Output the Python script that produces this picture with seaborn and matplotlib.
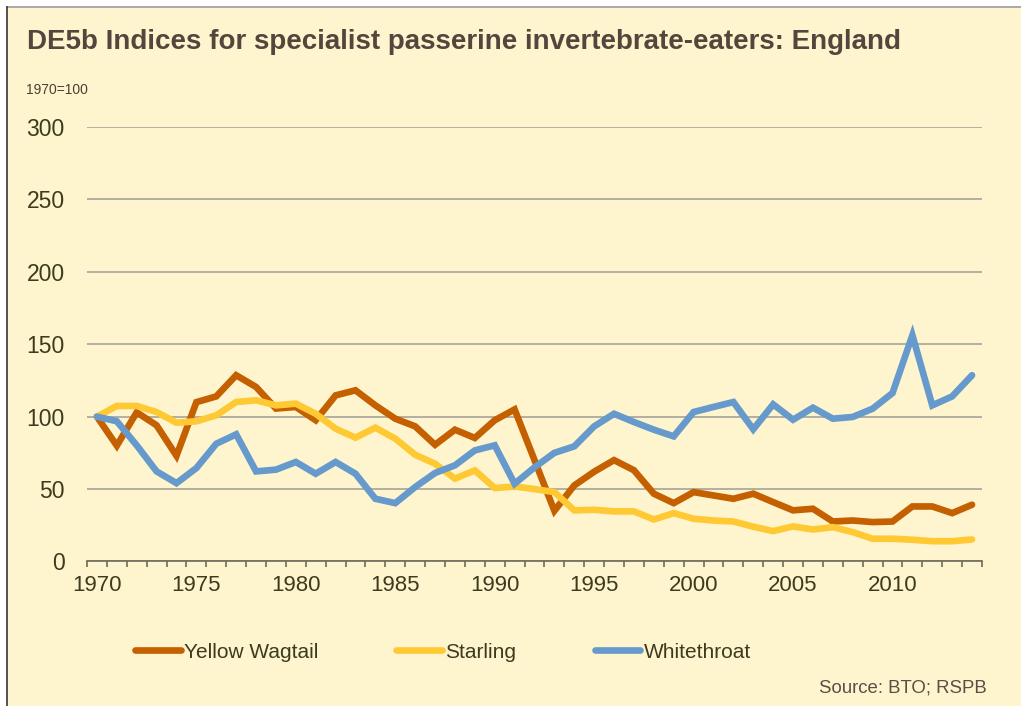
import numpy as np
import pandas as pd
import matplotlib
matplotlib.use("Agg")
import matplotlib.pyplot as plt
from matplotlib.patches import Rectangle
from matplotlib.lines import Line2D
import seaborn as sns

years = list(range(1970, 2015))

yellow_wagtail = [100, 80, 103, 94, 73, 110, 114, 128.6, 120.5, 105.6,
                  106.7, 97.5, 114.7, 118.2, 107.8, 98.6, 93.3, 80.6, 91, 85.3,
                  97.5, 105, 70, 35, 52.5, 62, 70, 63, 46.8, 40.3,
                  47.9, 45.6, 43.3, 46.8, 41, 35.3, 36.4, 27.6, 28.3, 27.2,
                  27.6, 38, 38, 33.4, 39.2]
starling = [100, 107.4, 107.4, 103.2, 95.8, 96.8, 100.9, 110.1, 111.3, 107.8,
            109, 102, 91.7, 85.5, 92.4, 84.8, 73.7, 67.5, 57.2, 62.9,
            50.7, 51.8, 50, 47.9, 35.3, 35.7, 34.6, 34.6, 29, 33.4,
            29.5, 28.3, 27.6, 24, 21, 24.2, 22.1, 23.7, 20.3, 15.7,
            15.7, 15, 14, 14, 15.2]
whitethroat = [100, 96.8, 80.2, 62.2, 54.1, 64.5, 81.3, 87.8, 62.2, 63.4,
               68.7, 60.6, 68.7, 60.6, 43.3, 40.3, 51.4, 61.1, 66.4, 76.7,
               80.2, 53.7, 65, 75, 79.5, 93.3, 102, 96.3, 91, 86.4,
               103.2, 106.7, 110.1, 91.3, 108.5, 97.9, 106.2, 98.6, 99.8, 105.5,
               116.3, 156.2, 107.8, 114, 128.6]

species = ["Yellow Wagtail", "Starling", "Whitethroat"]
colors = ["#C46000", "#FFC933", "#6699CC"]

df = pd.DataFrame({
    "year": years * 3,
    "index": yellow_wagtail + starling + whitethroat,
    "species": np.repeat(species, len(years)),
})

bg = "#FEF5CF"
txt = "#3D3A1E"
plt.rcParams['font.family'] = ['Liberation Sans', 'DejaVu Sans']

fig = plt.figure(figsize=(10.21, 7.06), dpi=100, facecolor="white")
# cream panel with a frame on top and left, like the source slide
panel = Rectangle((8 / 1021, 0), 1, 1 - 8 / 706, transform=fig.transFigure,
                  facecolor=bg, edgecolor="none", zorder=-10)
fig.add_artist(panel)
fig.add_artist(Line2D([7 / 1021, 1], [1 - 7 / 706, 1 - 7 / 706], transform=fig.transFigure,
                      color="#9A9A9A", linewidth=1.2, zorder=-9))
fig.add_artist(Line2D([7 / 1021, 7 / 1021], [0, 1 - 7 / 706], transform=fig.transFigure,
                      color="#333333", linewidth=1.2, zorder=-9))

ax = fig.add_axes([0.0852, 0.2047, 0.8766, 0.6154], facecolor=bg)

sns.lineplot(data=df, x="year", y="index", hue="species", palette=colors,
             hue_order=species, linewidth=4.8, ax=ax, legend=False,
             solid_capstyle="round", solid_joinstyle="miter")

ax.set_xlim(1969.5, 2014.5)
ax.set_ylim(0, 300)
ax.set_yticks(range(0, 301, 50))
ax.set_xticks(range(1970, 2015, 5))
ax.set_xticks(np.arange(1969.5, 2015, 1), minor=True)
ax.tick_params(axis="x", which="major", length=0, labelsize=16, colors=txt, pad=10)
ax.tick_params(axis="x", which="minor", length=4.2, width=1.2, color="#6E6A58", direction="out")
ax.tick_params(axis="y", length=0, labelsize=16.5, colors=txt, pad=16)
ax.grid(axis="y", color="#A6A39A", linewidth=1.2)
ax.set_axisbelow(True)
for s in ["top", "right", "left"]:
    ax.spines[s].set_visible(False)
ax.spines["bottom"].set_color("#6E6A58")
ax.spines["bottom"].set_linewidth(1.2)
ax.set_xlabel("")
ax.set_ylabel("")

fig.text(27 / 1021, 1 - 42 / 706, "DE5b Indices for specialist passerine invertebrate-eaters: England",
         fontsize=20, fontweight="bold", color="#53463C", va="center")
fig.text(26 / 1021, 1 - 90 / 706, "1970=100", fontsize=10, color="#4A4032", va="center")
fig.text(987 / 1021, 1 - 688 / 706, "Source: BTO; RSPB", fontsize=13.4, color="#595045",
         ha="right", va="center")

handles = [Line2D([], [], color=c, linewidth=4.8, solid_capstyle="round") for c in colors]
fig.legend(handles, species, loc="center left", bbox_to_anchor=(135 / 1021, 1 - 652 / 706),
           ncol=3, frameon=False, fontsize=15, handlelength=2.2, handletextpad=0.15,
           columnspacing=3.75, labelcolor=txt, borderpad=0, borderaxespad=0)

fig.savefig("out.png", dpi=100, facecolor="white")
